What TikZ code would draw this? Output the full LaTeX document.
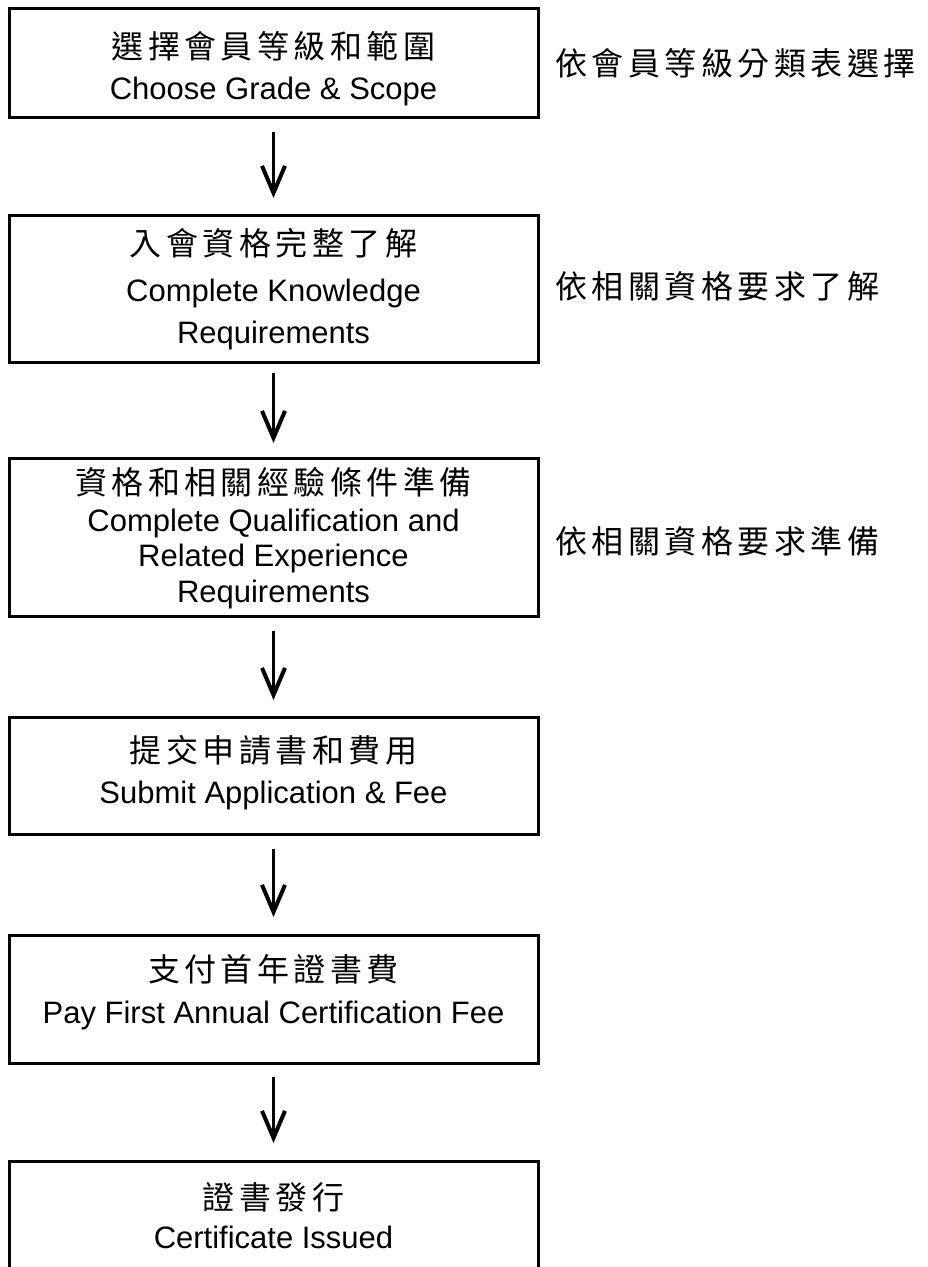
\documentclass[tikz,border=0pt]{standalone}
\usepackage{fontspec}
\setmainfont{Liberation Sans}
\newfontfamily\cjk[LetterSpace=14]{Noto Sans CJK TC}
\usetikzlibrary{arrows.meta}
\tikzset{
  caja/.style={draw, line width=3pt, minimum width=529pt, outer sep=0pt, inner sep=0pt},
  flecha/.style={line width=3pt, -{Straight Barb[length=27pt,width=23pt,line width=4pt]}},
  zh/.style={anchor=base, inner sep=0pt, font=\cjk\fontsize{32}{38}\selectfont},
  en/.style={anchor=base, inner sep=0pt, font=\fontsize{31}{36}\selectfont},
  nota/.style={zh, anchor=base west}
}
\begin{document}
\begin{tikzpicture}[x=1pt,y=-1pt]
    \fill[white] (0,0) rectangle (928,1267);
    \useasboundingbox (0,0) rectangle (928,1267);

    % Cajas
    \node[caja, minimum height=109pt] (b1) at (273.5,62.5) {};
    \node[caja, minimum height=147pt] (b2) at (273.5,288.5) {};
    \node[caja, minimum height=158pt] (b3) at (273.5,537) {};
    \node[caja, minimum height=117pt] (b4) at (273.5,775.5) {};
    \node[caja, minimum height=128pt] (b5) at (273.5,999) {};
    \node[caja, minimum height=114pt] (b6) at (273.5,1218) {};

    % Textos de las cajas
    \node[zh] (z1) at (273.5,58) {選擇會員等級和範圍};
    \node[en] (e1) at (273.5,99) {Choose Grade \& Scope};
    \node[zh] (z2) at (273.5,255) {入會資格完整了解};
    \node[en] (e2a) at (273.5,301) {Complete Knowledge};
    \node[en] (e2b) at (273.5,343) {Requirements};
    \node[zh] (z3) at (273.5,494) {資格和相關經驗條件準備};
    \node[en] (e3a) at (273.5,531) {Complete Qualification and};
    \node[en] (e3b) at (273.5,566) {Related Experience};
    \node[en] (e3c) at (273.5,602) {Requirements};
    \node[zh] (z4) at (273.5,762) {提交申請書和費用};
    \node[en] (e4) at (273.5,803) {Submit Application \& Fee};
    \node[zh] (z5) at (273.5,981) {支付首年證書費};
    \node[en] (e5) at (273.5,1023) {Pay First Annual Certification Fee};
    \node[zh] (z6) at (273.5,1209) {證書發行};
    \node[en] (e6) at (273.5,1248) {Certificate Issued};

    % Notas a la derecha
    \node[nota] (n1) at (555,75) {依會員等級分類表選擇};
    \node[nota] (n2) at (555,298) {依相關資格要求了解};
    \node[nota] (n3) at (555,553) {依相關資格要求準備};

    % Flechas
    \draw[flecha] ([yshift=-15pt]b1.south) -- ([yshift=17pt]b2.north);
    \draw[flecha] ([yshift=-11pt]b2.south) -- ([yshift=15pt]b3.north);
    \draw[flecha] ([yshift=-15pt]b3.south) -- ([yshift=17pt]b4.north);
    \draw[flecha] ([yshift=-15pt]b4.south) -- ([yshift=18pt]b5.north);
    \draw[flecha] ([yshift=-14pt]b5.south) -- ([yshift=18pt]b6.north);
\end{tikzpicture}
\end{document}
